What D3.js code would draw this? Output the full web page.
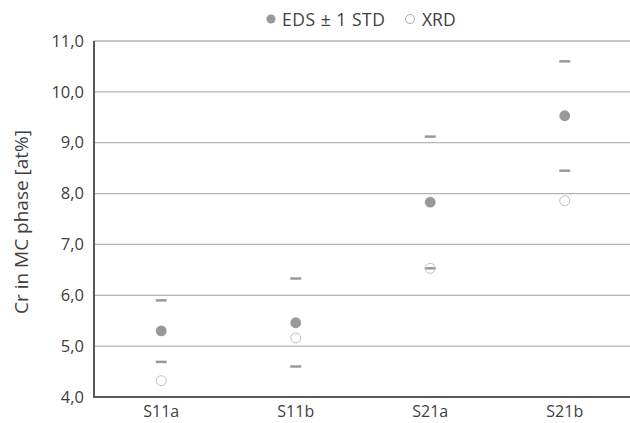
<!DOCTYPE html>
<html><head><meta charset="utf-8">
<script src="https://cdn.jsdelivr.net/npm/d3@7"></script>
<style>body{margin:0;background:#fff}svg{display:block}</style>
</head><body><svg id="c" width="630" height="423"></svg>
<script>
const categories = ["S11a","S11b","S21a","S21b"];
const edsMean = [5.30, 5.46, 7.83, 9.53];
const edsUpper = [5.90, 6.33, 9.12, 10.60];
const edsLower = [4.69, 4.60, 6.53, 8.45];
const xrd = [4.32, 5.16, 6.53, 7.86];
const yTicks = [4,5,6,7,8,9,10,11];

const svg = d3.select("#c");
const m = {l:94};
const W = 630;
const x = d3.scaleBand().domain(categories).range([m.l, 632]);
const y = d3.scaleLinear().domain([4,11]).range([397, 41]);
const font = "'Open Sans', 'Liberation Sans', sans-serif";

// gridlines
svg.append("g").selectAll("line").data(yTicks.slice(1)).join("line")
  .attr("x1", m.l).attr("x2", W).attr("y1", d=>y(d)).attr("y2", d=>y(d))
  .attr("stroke", "#b3b3b3").attr("stroke-width", 1.3);

// axes
const yAx = svg.append("g").attr("transform", `translate(${m.l},0)`)
  .call(d3.axisLeft(y).tickValues(yTicks).tickSize(0).tickPadding(10).tickFormat(d=>d3.format(".1f")(d).replace(".",",")));
yAx.select(".domain").remove();
yAx.selectAll("text").attr("font-family", font).attr("font-size", 16.5).attr("fill","#404040");

const xAx = svg.append("g").attr("transform", `translate(0,${y(4)})`)
  .call(d3.axisBottom(x).tickSize(0).tickPadding(9));
xAx.select(".domain").remove();
xAx.selectAll("text").attr("font-family", font).attr("font-size", 16).attr("fill","#404040");

svg.append("line").attr("x1", m.l).attr("x2", m.l).attr("y1", y(11)).attr("y2", y(4)+1)
  .attr("stroke", "#595959").attr("stroke-width", 2);
svg.append("line").attr("x1", m.l-1).attr("x2", W).attr("y1", y(4)).attr("y2", y(4))
  .attr("stroke", "#595959").attr("stroke-width", 2);

// y title
svg.append("text").attr("transform", `translate(28,${(y(4)+y(11))/2 + 3}) rotate(-90)`)
  .attr("text-anchor","middle").attr("font-family", font).attr("font-size", 19).attr("fill","#404040")
  .text("Cr in MC phase [at%]");

const cx = d => x(d) + x.bandwidth()/2;
const g = svg.append("g");
// error dashes
[edsUpper, edsLower].forEach(arr => {
  g.append("g").selectAll("line").data(categories).join("line")
    .attr("x1", (d)=>cx(d)-5.5).attr("x2", d=>cx(d)+5.5)
    .attr("y1", (d,i)=>y(arr[i])).attr("y2", (d,i)=>y(arr[i]))
    .attr("stroke", "#999").attr("stroke-width", 2.5);
});
// XRD
g.append("g").selectAll("circle").data(categories).join("circle")
  .attr("cx", cx).attr("cy", (d,i)=>y(xrd[i])).attr("r", 5)
  .attr("fill", "none").attr("stroke", "#bfbfbf").attr("stroke-width", 1);
// EDS
g.append("g").selectAll("circle").data(categories).join("circle")
  .attr("cx", cx).attr("cy", (d,i)=>y(edsMean[i])).attr("r", 5.4)
  .attr("fill", "#999");

// legend
const lg = svg.append("g").attr("font-family", font).attr("font-size", 17.5).attr("fill","#404040");
lg.append("circle").attr("cx", 271).attr("cy", 19).attr("r", 4.5).attr("fill", "#999");
lg.append("text").attr("x", 282).attr("y", 25.5).attr("textLength", 103).text("EDS ± 1 STD");
lg.append("circle").attr("cx", 410).attr("cy", 19).attr("r", 4.5).attr("fill", "none").attr("stroke","#aaa");
lg.append("text").attr("x", 422).attr("y", 25.5).text("XRD");
</script></body></html>
